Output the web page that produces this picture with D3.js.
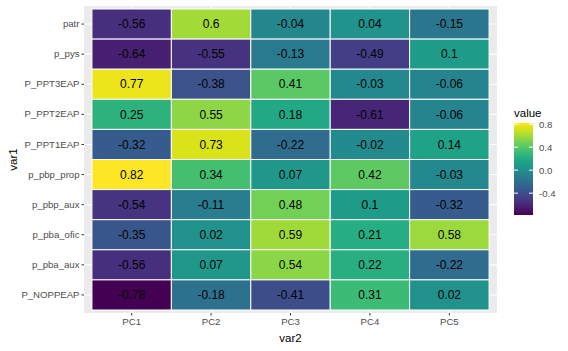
<!DOCTYPE html>
<html>
<head>
<meta charset="utf-8">
<script src="https://cdn.jsdelivr.net/npm/d3@7"></script>
<style>
  body { margin: 0; background: #fff; }
  text { font-family: "Liberation Sans", Arial, sans-serif; }
</style>
</head>
<body>
<div id="chart"></div>
<script>
var w = 568, h = 351;

// data
var var1 = ["patr", "p_pys", "P_PPT3EAP", "P_PPT2EAP", "P_PPT1EAP",
  "p_pbp_prop", "p_pbp_aux", "p_pba_ofic", "p_pba_aux", "P_NOPPEAP"];
var var2 = ["PC1", "PC2", "PC3", "PC4", "PC5"];
var pc1 = [-0.56, -0.64, 0.77, 0.25, -0.32, 0.82, -0.54, -0.35, -0.56, -0.78];
var pc2 = [0.6, -0.55, -0.38, 0.55, 0.73, 0.34, -0.11, 0.02, 0.07, -0.18];
var pc3 = [-0.04, -0.13, 0.41, 0.18, -0.22, 0.07, 0.48, 0.59, 0.54, -0.41];
var pc4 = [0.04, -0.49, -0.03, -0.61, -0.02, 0.42, 0.1, 0.21, 0.22, 0.31];
var pc5 = [-0.15, 0.1, -0.06, -0.06, 0.14, -0.03, -0.32, 0.58, -0.22, 0.02];
var legendTicks = [0.8, 0.4, 0.0, -0.4];
var legendLabels = ["0.8", "0.4", "0.0", "-0.4"];

var cols = [pc1, pc2, pc3, pc4, pc5];
var cells = [];
cols.forEach(function(col, j) {
  col.forEach(function(v, i) {
    cells.push({ row: var1[i], col: var2[j], value: v });
  });
});

var panel = { left: 84, right: 497, top: 6, bottom: 313 };

var xScale = d3.scaleBand()
  .domain(var2)
  .range([panel.left, panel.right])
  .paddingInner(0)
  .paddingOuter(0.1);

var yScale = d3.scaleBand()
  .domain(var1)
  .range([panel.top, panel.bottom])
  .paddingInner(0)
  .paddingOuter(0.1);

var vmin = d3.min(cells, function(d) { return d.value; });
var vmax = d3.max(cells, function(d) { return d.value; });
var color = d3.scaleSequential(d3.interpolateViridis).domain([vmin, vmax]);

var svg = d3.select("#chart")
  .append("svg")
  .attr("width", w)
  .attr("height", h);

// panel background
svg.append("rect")
  .attr("x", panel.left)
  .attr("y", panel.top)
  .attr("width", panel.right - panel.left)
  .attr("height", panel.bottom - panel.top)
  .attr("fill", "#EBEBEB");

// grid lines
svg.selectAll(".gx")
  .data(var2)
  .enter()
  .append("line")
  .attr("x1", function(d) { return xScale(d) + xScale.bandwidth() / 2; })
  .attr("x2", function(d) { return xScale(d) + xScale.bandwidth() / 2; })
  .attr("y1", panel.top)
  .attr("y2", panel.bottom)
  .attr("stroke", "#fff")
  .attr("stroke-width", 1.1);

svg.selectAll(".gy")
  .data(var1)
  .enter()
  .append("line")
  .attr("y1", function(d) { return yScale(d) + yScale.bandwidth() / 2; })
  .attr("y2", function(d) { return yScale(d) + yScale.bandwidth() / 2; })
  .attr("x1", panel.left)
  .attr("x2", panel.right)
  .attr("stroke", "#fff")
  .attr("stroke-width", 1.1);

// tiles
svg.selectAll(".tile")
  .data(cells)
  .enter()
  .append("rect")
  .attr("x", function(d) { return xScale(d.col); })
  .attr("y", function(d) { return yScale(d.row); })
  .attr("width", xScale.bandwidth())
  .attr("height", yScale.bandwidth())
  .attr("fill", function(d) { return color(d.value); })
  .attr("stroke", "#fff")
  .attr("stroke-width", 1);

// tile labels
svg.selectAll(".lab")
  .data(cells)
  .enter()
  .append("text")
  .attr("x", function(d) { return xScale(d.col) + xScale.bandwidth() / 2; })
  .attr("y", function(d) { return yScale(d.row) + yScale.bandwidth() / 2; })
  .attr("dy", "0.35em")
  .attr("text-anchor", "middle")
  .attr("font-size", 12)
  .attr("fill", "#000")
  .text(function(d) { return String(d.value); });

// axes
var xAxis = d3.axisBottom(xScale).tickSize(2.5).tickPadding(3);
var yAxis = d3.axisLeft(yScale).tickSize(2.5).tickPadding(2);

var gx = svg.append("g")
  .attr("transform", "translate(0," + panel.bottom + ")")
  .call(xAxis);
var gy = svg.append("g")
  .attr("transform", "translate(" + panel.left + ",0)")
  .call(yAxis);

[gx, gy].forEach(function(g) {
  g.select(".domain").remove();
  g.selectAll(".tick line").attr("stroke", "#333333").attr("stroke-width", 1);
  g.selectAll(".tick text")
    .attr("fill", "#4D4D4D")
    .attr("font-size", 9.6)
    .attr("font-family", "Liberation Sans, Arial, sans-serif");
});

// axis titles
svg.append("text")
  .attr("x", (panel.left + panel.right) / 2)
  .attr("y", 342)
  .attr("text-anchor", "middle")
  .attr("font-size", 11.5)
  .text("var2");

svg.append("text")
  .attr("transform", "translate(17," + (panel.top + panel.bottom) / 2 + ") rotate(-90)")
  .attr("text-anchor", "middle")
  .attr("font-size", 11.5)
  .text("var1");

// legend
var legendScale = d3.scaleLinear().domain([vmin, vmax]).range([215, 123]);
var barX = 514, barW = 19;

var grad = svg.append("defs").append("linearGradient")
  .attr("id", "vgrad")
  .attr("x1", "0").attr("y1", "1")
  .attr("x2", "0").attr("y2", "0");
d3.range(0, 1.0001, 0.05).forEach(function(t) {
  grad.append("stop")
    .attr("offset", t)
    .attr("stop-color", d3.interpolateViridis(t));
});

svg.append("rect")
  .attr("x", barX)
  .attr("y", legendScale(vmax))
  .attr("width", barW)
  .attr("height", legendScale(vmin) - legendScale(vmax))
  .attr("fill", "url(#vgrad)");

svg.selectAll(".lt")
  .data(legendTicks)
  .enter()
  .append("g")
  .each(function(d) {
    var y = legendScale(d);
    var g = d3.select(this);
    g.append("line").attr("x1", barX).attr("x2", barX + 4)
      .attr("y1", y).attr("y2", y).attr("stroke", "#fff");
    g.append("line").attr("x1", barX + barW - 4).attr("x2", barX + barW)
      .attr("y1", y).attr("y2", y).attr("stroke", "#fff");
  });

svg.selectAll(".ltl")
  .data(legendTicks)
  .enter()
  .append("text")
  .attr("x", 539)
  .attr("y", function(d) { return legendScale(d); })
  .attr("dy", "0.35em")
  .attr("font-size", 9.6)
  .attr("fill", "#4D4D4D")
  .text(function(d, i) { return legendLabels[i]; });

svg.append("text")
  .attr("x", barX)
  .attr("y", 117)
  .attr("font-size", 11.5)
  .text("value");
</script>
</body>
</html>
